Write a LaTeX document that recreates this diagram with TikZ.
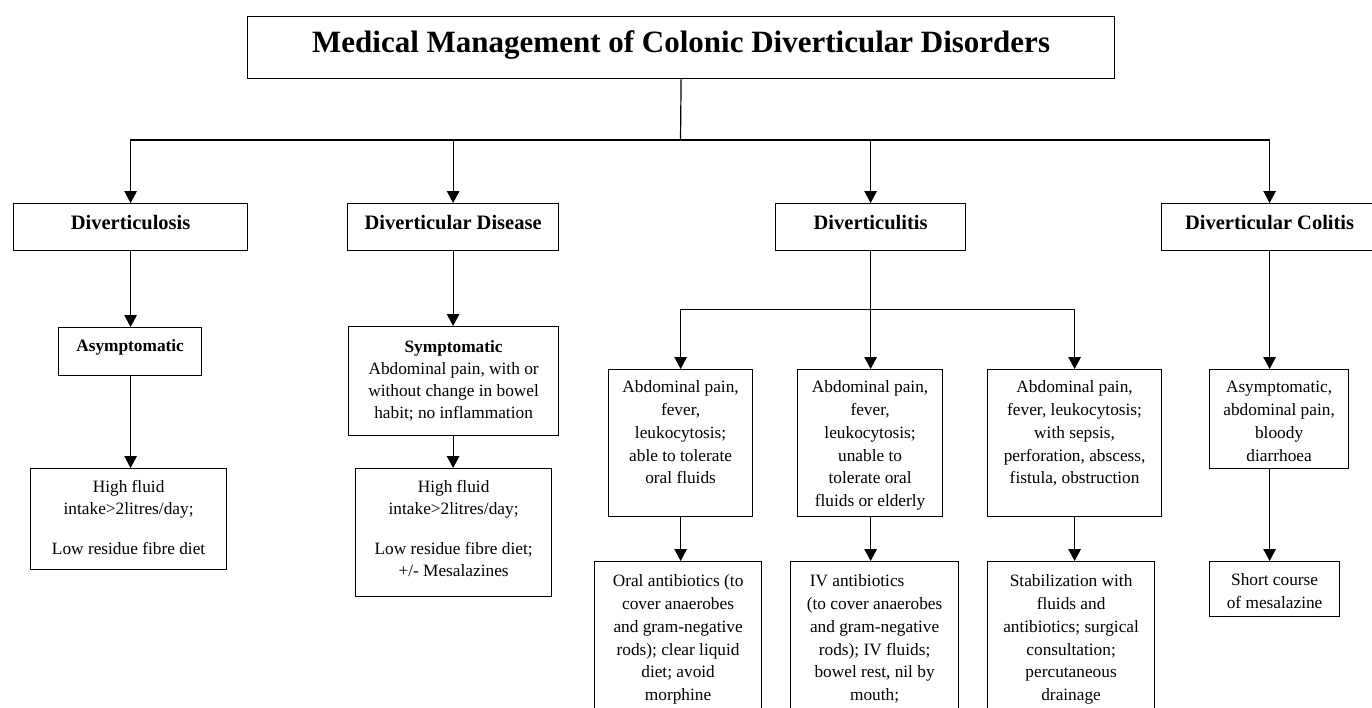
\documentclass[tikz,border=0pt]{standalone}
\usepackage{fontspec}
\setmainfont{Liberation Serif}
\usetikzlibrary{arrows.meta,calc}
\newcommand{\mybx}[5]{\parbox[c][#2pt][t]{#1pt}{#4\centering\rule{0pt}{#3pt}#5}}
\newcommand{\fnorm}{\fontsize{17.3pt}{22.8pt}\selectfont}
\newcommand{\fnormb}{\fontsize{17.3pt}{22pt}\selectfont}
\newcommand{\fhead}{\fontsize{20.5pt}{24pt}\selectfont\bfseries}
\newcommand{\ftitle}{\fontsize{31pt}{36pt}\selectfont\bfseries}
\newcommand{\fasym}{\fontsize{17.3pt}{22pt}\selectfont\bfseries}
\begin{document}
\begin{tikzpicture}[x=1pt,y=-1pt,
  box/.style={draw, line width=1.2pt, inner sep=0pt, anchor=north west},
  ln/.style={line width=1.2pt},
  arr/.style={line width=1.2pt, -{Triangle[length=12pt,width=12.5pt]}}]
\useasboundingbox (0,0) rectangle (1372,707);
\fill[white] (0,0) rectangle (1372,707);
\clip (0,0) rectangle (1372,707);

\node[box] (title) at (247,16) {\mybx{867}{62}{36}{\ftitle}{Medical Management of Colonic Diverticular Disorders}};

\node[box] (d1) at (13,203) {\mybx{234}{47}{26}{\fhead}{Diverticulosis}};
\node[box] (d2) at (347,203) {\mybx{211}{47}{26}{\fhead}{Diverticular Disease}};
\node[box] (d3) at (775,203) {\mybx{190}{47}{26}{\fhead}{Diverticulitis}};
\node[box] (d4) at (1161,203) {\mybx{216}{47}{26}{\fhead}{Diverticular Colitis}};

\node[box] (asym) at (58,327) {\mybx{143}{48}{24}{\fasym}{Asymptomatic}};
\node[box] (hf1) at (30,468) {\mybx{196}{101}{24}{\fnormb}{High fluid\\intake>2litres/day;\\[18pt]Low residue fibre diet}};
\node[box] (sym) at (348,326) {\mybx{210}{109}{26}{\fnormb}{\textbf{Symptomatic}\\Abdominal pain, with or\\without change in bowel\\habit; no inflammation}};
\node[box] (hf2) at (355,468) {\mybx{196}{128}{24}{\fnormb}{High fluid\\intake>2litres/day;\\[18pt]Low residue fibre diet;\\+/- Mesalazines}};

\node[box] (bA) at (608,369) {\mybx{144}{147}{23}{\fnorm}{Abdominal pain,\\fever,\\leukocytosis;\\able to tolerate\\oral fluids}};
\node[box] (bB) at (797,369) {\mybx{145}{147}{23}{\fnorm}{Abdominal pain,\\fever,\\leukocytosis;\\unable to\\tolerate oral\\fluids or elderly}};
\node[box] (bC) at (987,369) {\mybx{174}{147}{23}{\fnorm}{Abdominal pain,\\fever, leukocytosis;\\with sepsis,\\perforation, abscess,\\fistula, obstruction}};
\node[box] (bD) at (1209,369) {\mybx{139}{99}{23}{\fnorm}{Asymptomatic,\\abdominal pain,\\bloody\\diarrhoea}};

\node[box] (bA2) at (594,561) {\mybx{167}{160}{25}{\fnorm}{Oral antibiotics (to\\cover anaerobes\\and gram-negative\\rods); clear liquid\\diet; avoid\\morphine}};
\node[box] (bB2) at (790,561) {\mybx{168}{160}{25}{\fnorm}{IV antibiotics\hspace*{35pt}\mbox{}\\(to cover anaerobes\\and gram-negative\\rods); IV fluids;\\bowel rest, nil by\\mouth;}};
\node[box] (bC2) at (987,561) {\mybx{167}{160}{25}{\fnorm}{Stabilization with\\fluids and\\antibiotics; surgical\\consultation;\\percutaneous\\drainage}};
\node[box] (bD2) at (1209,561) {\mybx{130}{55}{24}{\fnorm}{Short course\\of mesalazine}};

% top level
\coordinate (bar) at (680.5,140);
\draw[ln] (title.south) -- (bar);
\draw[arr] (bar) -| (d1.north);
\draw[arr] (bar) -| (d2.north);
\draw[arr] (bar) -| (d3.north);
\draw[arr] (bar) -| (d4.north);

% diverticulosis
\draw[arr] (d1.south) -- (asym.north -| d1.south);
\draw[arr] (asym.south -| d1.south) -- (hf1.north -| d1.south);

% diverticular disease
\draw[arr] (d2.south) -- (sym.north -| d2.south);
\draw[arr] (sym.south -| d2.south) -- (hf2.north -| d2.south);

% diverticulitis
\path (d3.south) ++(0,58) coordinate (br);
\draw[ln] (d3.south) -- (br);
\draw[arr] (br) -| (bA.north);
\draw[arr] (br) -- (bB.north -| br);
\draw[arr] (br) -| (bC.north);
\draw[arr] (bA.south) -- (bA2.north -| bA.south);
\draw[arr] (bB.south -| br) -- (bB2.north -| br);
\draw[arr] (bC.south) -- (bC2.north -| bC.south);

% colitis
\draw[arr] (d4.south) -- (bD.north -| d4.south);
\draw[arr] (bD.south -| d4.south) -- (bD2.north -| d4.south);
\end{tikzpicture}
\end{document}
